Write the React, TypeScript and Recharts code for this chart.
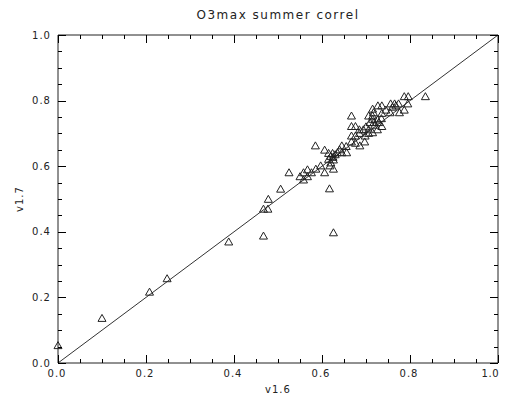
import { ScatterChart, Scatter, XAxis, YAxis, ReferenceLine } from 'recharts';

// v1.6 (x) and v1.7 (y) O3max summer values
const v16 = [
  0.0, 0.1, 0.208, 0.248, 0.388, 0.467, 0.467, 0.477, 0.478, 0.506,
  0.525, 0.558, 0.55, 0.567, 0.558, 0.567, 0.576, 0.586, 0.597, 0.606,
  0.618, 0.626, 0.615, 0.626, 0.615, 0.624, 0.635, 0.645, 0.656, 0.606,
  0.585, 0.645, 0.617, 0.626, 0.667, 0.676, 0.686, 0.697, 0.667, 0.676,
  0.685, 0.698, 0.706, 0.715, 0.685, 0.694, 0.706, 0.726, 0.667, 0.676,
  0.736, 0.709, 0.718, 0.729, 0.715, 0.726, 0.667, 0.706, 0.715, 0.736,
  0.745, 0.755, 0.717, 0.715, 0.776, 0.787, 0.727, 0.736, 0.768, 0.756,
  0.765, 0.774, 0.795, 0.787, 0.796, 0.835, 0.62, 0.625, 0.62, 0.63,
  0.72, 0.735, 0.76, 0.64, 0.655, 0.7,
];
const v17 = [
  0.053, 0.136, 0.216, 0.257, 0.369, 0.387, 0.469, 0.469, 0.499, 0.53,
  0.58, 0.558, 0.568, 0.568, 0.58, 0.589, 0.58, 0.591, 0.601, 0.58,
  0.601, 0.591, 0.621, 0.619, 0.639, 0.639, 0.641, 0.641, 0.641, 0.649,
  0.662, 0.662, 0.531, 0.397, 0.674, 0.67, 0.662, 0.674, 0.692, 0.692,
  0.7, 0.692, 0.7, 0.702, 0.711, 0.711, 0.711, 0.711, 0.721, 0.721,
  0.721, 0.733, 0.733, 0.733, 0.743, 0.741, 0.753, 0.753, 0.753, 0.761,
  0.771, 0.763, 0.763, 0.774, 0.763, 0.771, 0.784, 0.784, 0.784, 0.79,
  0.79, 0.79, 0.79, 0.812, 0.812, 0.812, 0.63, 0.627, 0.61, 0.635,
  0.725, 0.745, 0.78, 0.65, 0.66, 0.72,
];

// minor ticks every 0.05, labelled majors every 0.2
const axisTicks = [
  0, 0.05, 0.1, 0.15, 0.2, 0.25, 0.3, 0.35, 0.4, 0.45, 0.5,
  0.55, 0.6, 0.65, 0.7, 0.75, 0.8, 0.85, 0.9, 0.95, 1.0,
];
const majorTicks = [0, 0.2, 0.4, 0.6, 0.8, 1.0];

const TITLE = 'O3max summer correl';
const X_LABEL = 'v1.6';
const Y_LABEL = 'v1.7';

const INK = '#222';
const TICK_INK = '#000';
const FONT = '"DejaVu Sans", sans-serif';
const TINY = 0.001; // recharts falls back to defaults on 0

const data = v16.map((x, i) => ({ x, y: v17[i] }));

const isMajor = (v: number) => majorTicks.some((m) => Math.abs(m - v) < 1e-6);
const tickLen = (v: number) => (isMajor(v) ? 8 : 4);
// snap a coordinate to the pixel centre so 1px ticks stay crisp
const px = (v: number) => Math.round(v) + 0.5;

const BottomTick = ({ x, y, payload }: any) => {
  const last = payload.value >= 1;
  return (
    <g>
      <path d={`M${px(x)},${y}V${y - tickLen(payload.value)}`} stroke={TICK_INK}
        strokeWidth={1} fill="none" shapeRendering="crispEdges" />
      {isMajor(payload.value) && (
        <text x={last ? x + 1 : x - 1} y={y + 10} textAnchor={last ? 'end' : 'middle'}
          dominantBaseline="central" fontSize={10} letterSpacing={last ? 0.5 : 1}
          fill={INK} fontFamily={FONT}>
          {payload.value.toFixed(1)}
        </text>
      )}
    </g>
  );
};

const TopTick = ({ x, y, payload }: any) => (
  <path d={`M${px(x)},${y}V${y + tickLen(payload.value)}`} stroke={TICK_INK}
    strokeWidth={1} fill="none" shapeRendering="crispEdges" />
);

const LeftTick = ({ x, y, payload }: any) => (
  <g>
    <path d={`M${x},${px(y)}H${x + tickLen(payload.value)}`} stroke={TICK_INK}
      strokeWidth={1} fill="none" shapeRendering="crispEdges" />
    {isMajor(payload.value) && (
      <text x={x - 7} y={y} textAnchor="end" dominantBaseline="central"
        fontSize={10} letterSpacing={1} fill={INK} fontFamily={FONT}>
        {payload.value.toFixed(1)}
      </text>
    )}
  </g>
);

const RightTick = ({ x, y, payload }: any) => (
  <path d={`M${x},${px(y)}H${x - tickLen(payload.value)}`} stroke={TICK_INK}
    strokeWidth={1} fill="none" shapeRendering="crispEdges" />
);

const Triangle = ({ cx, cy }: any) => (
  <path d={`M${cx - 4},${cy + 3}L${cx + 4},${cy + 3}L${cx},${cy - 4}Z`}
    fill="none" stroke={INK} strokeWidth={1} />
);

const Nothing = () => <g />;

export default function App() {
  return (
    <div style={{ width: 492, height: 386 }}>
      <style>{'html, body { overflow: hidden; } .recharts-surface, .recharts-wrapper { overflow: visible !important; }'}</style>
      <ScatterChart width={492} height={386}
        margin={{ top: 26, right: 1, bottom: 0, left: 0 }}>
        <XAxis xAxisId="b" dataKey="x" type="number" domain={[0, 1]} ticks={axisTicks}
          height={31} tickSize={TINY} tickMargin={TINY} tickLine={false} interval={0}
          axisLine={{ stroke: INK }} tick={<BottomTick />}
          label={{
            content: ({ viewBox }: any) => (
              <text x={viewBox.x + viewBox.width / 2} y={viewBox.y + 26} textAnchor="middle"
                dominantBaseline="central" fontSize={10} letterSpacing={1} fill={INK} fontFamily={FONT}>
                {X_LABEL}
              </text>
            ),
          }} />
        <XAxis xAxisId="t" dataKey="x" orientation="top" type="number" domain={[0, 1]} ticks={axisTicks}
          height={1} tickSize={TINY} tickMargin={TINY} tickLine={false} interval={0}
          axisLine={{ stroke: INK }} tick={<TopTick />}
          label={{
            content: ({ viewBox }: any) => (
              <text x={viewBox.x + viewBox.width / 2} y={7} textAnchor="middle"
                dominantBaseline="central" fontSize={12} letterSpacing={1.5} fill={INK} fontFamily={FONT}>
                {TITLE}
              </text>
            ),
          }} />
        <YAxis yAxisId="l" dataKey="y" type="number" domain={[0, 1]} ticks={axisTicks}
          width={50} tickSize={TINY} tickMargin={TINY} tickLine={false} interval={0}
          axisLine={{ stroke: INK }} tick={<LeftTick />}
          label={{
            content: ({ viewBox }: any) => {
              const cy = viewBox.y + viewBox.height / 2;
              return (
                <text x={11} y={cy} textAnchor="middle" dominantBaseline="central"
                  transform={`rotate(-90, 11, ${cy})`} fontSize={10} letterSpacing={1}
                  fill={INK} fontFamily={FONT}>
                  {Y_LABEL}
                </text>
              );
            },
          }} />
        <YAxis yAxisId="r" dataKey="y" orientation="right" type="number" domain={[0, 1]} ticks={axisTicks}
          width={1} tickSize={TINY} tickMargin={TINY} tickLine={false} interval={0}
          axisLine={{ stroke: INK }} tick={<RightTick />} />
        <ReferenceLine xAxisId="b" yAxisId="l"
          segment={[{ x: 0, y: 0 }, { x: 1, y: 1 }]} stroke="#333" strokeWidth={1} />
        <Scatter xAxisId="t" yAxisId="r" data={data} shape={<Nothing />}
          isAnimationActive={false} />
        <Scatter xAxisId="b" yAxisId="l" data={data} shape={<Triangle />}
          isAnimationActive={false} />
      </ScatterChart>
    </div>
  );
}
